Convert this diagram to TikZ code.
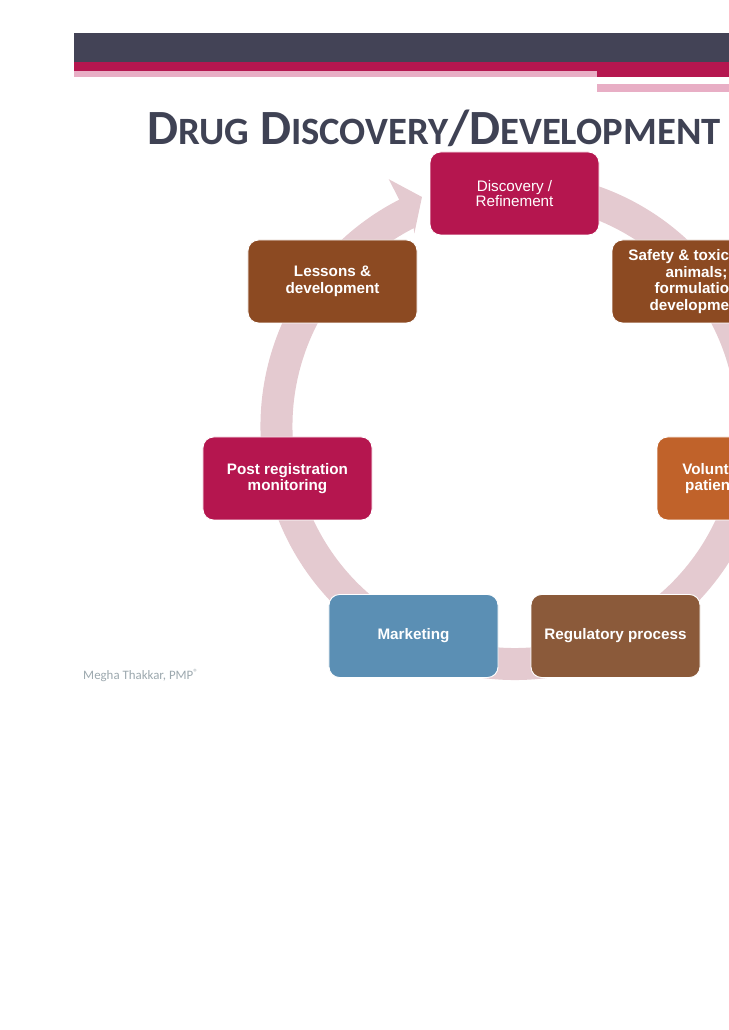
\documentclass[tikz,border=0pt]{standalone}
\usepackage{fontspec}
\setmainfont{Carlito}
\newfontfamily\boxfont{Liberation Sans}

\definecolor{barslate}{HTML}{434356}
\definecolor{crimson}{HTML}{B5164F}
\definecolor{stripepink}{HTML}{E8AEC5}
\definecolor{titleslate}{HTML}{3F4254}
\definecolor{ringpink}{HTML}{E4CAD0}
\definecolor{rust}{HTML}{8C4A22}
\definecolor{ochre}{HTML}{C0622A}
\definecolor{umber}{HTML}{8B5A3A}
\definecolor{steel}{HTML}{5B8FB4}
\definecolor{footgrey}{HTML}{9CA8AE}

\newcommand{\capbig}[1]{{\fontsize{42}{42}\selectfont #1}}
\newcommand{\capsmall}[1]{{\fontsize{33}{33}\selectfont #1}}

\begin{document}
\begin{tikzpicture}[
        x=0.03cm, y=0.03cm,
        stagebox/.style={
            draw=white,
            line width=0.8pt,
            rounded corners=9pt,
            align=center,
            text=white,
            minimum width=5.07cm,
            minimum height=2.49cm,
            font=\boxfont\bfseries\fontsize{13}{14.2}\selectfont
        }
    ]
        \useasboundingbox (0,0) rectangle (729,1030);
        \clip (0,0) rectangle (729,1030);

        % header bars
        \fill[barslate] (74,968) rectangle (729,997);
        \fill[crimson] (74,959) rectangle (729,968);
        \fill[crimson] (597,953) rectangle (729,959);
        \fill[stripepink] (74,953) rectangle (597,959);
        \fill[stripepink] (597,938) rectangle (729,946);

        \node[anchor=base west, inner sep=0, text=titleslate, font=\bfseries] (title) at (147,885)
            {\capbig{D}\capsmall{RUG}\capbig{\ D}\capsmall{ISCOVERY}\capbig{/D}\capsmall{EVELOPMENT}};

        % cycle arrow
        \fill[ringpink, shift={(514.5,604)}]
            (80:254) arc[start angle=80, end angle=-243, radius=254]
            -- (-243:277) -- (-248:247) -- (-242.5:217) -- (-243:222)
            arc[start angle=-243, end angle=80, radius=222] -- cycle;

        \node[stagebox, fill=crimson, font=\boxfont\fontsize{13}{12.8}\selectfont] (discovery) at (514.5,836.5) {Discovery /\\Refinement};
        \node[stagebox, fill=rust] (safety) at (696.5,748.5) {Safety \& toxicity in\\animals;\\formulation\\development};
        \node[stagebox, fill=ochre] (volunteers) at (741.5,551.5) {Volunteers, then\\patients testing};
        \node[stagebox, fill=umber] (regulatory) at (615.5,394) {Regulatory process};
        \node[stagebox, fill=steel] (marketing) at (413.5,394) {Marketing};
        \node[stagebox, fill=crimson] (postreg) at (287.5,551.5) {Post registration\\monitoring};
        \node[stagebox, fill=rust] (lessons) at (332.5,748.5) {Lessons \&\\development};

        \node[anchor=base west, inner sep=0, text=footgrey, font=\fontsize{11}{11}\selectfont] (author) at (83,350)
            {Megha Thakkar, PMP\textsuperscript{®}};
    \end{tikzpicture}
\end{document}
